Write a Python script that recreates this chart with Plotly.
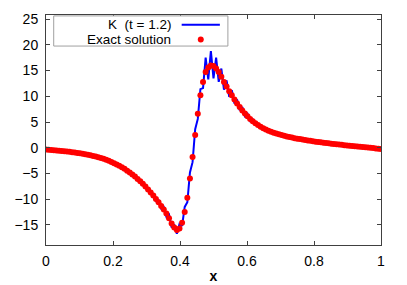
import plotly.graph_objects as go

N = 128
x_grid = [i / N for i in range(N + 1)]

exact_vals = [
    -0.35, -0.39, -0.43, -0.47, -0.52, -0.57, -0.62, -0.67, -0.73, -0.79,
    -0.85, -0.92, -1.00, -1.08, -1.16, -1.25, -1.35, -1.46, -1.58, -1.71,
    -1.85, -2.00, -2.16, -2.34, -2.55, -2.78, -3.00, -3.25, -3.50, -3.80,
    -4.10, -4.45, -4.80, -5.20, -5.60, -6.05, -6.50, -7.00, -7.55, -8.10,
    -8.70, -9.30, -9.95, -10.60, -11.30, -12.00, -12.80, -13.70, -14.70, -15.50,
    -16.00, -15.70, -14.60, -12.50, -9.70, -6.00, -1.80, 2.50, 6.60, 10.20,
    12.80, 14.70, 15.60, 16.00, 15.90, 15.40, 14.70, 13.80, 12.80, 11.90,
    11.00, 10.20, 9.40, 8.60, 7.90, 7.25, 6.65, 6.10, 5.60, 5.15,
    4.75, 4.40, 4.10, 3.80, 3.55, 3.32, 3.10, 2.92, 2.75, 2.60,
    2.46, 2.33, 2.20, 2.08, 1.97, 1.87, 1.77, 1.68, 1.59, 1.50,
    1.42, 1.34, 1.26, 1.19, 1.12, 1.05, 0.98, 0.92, 0.86, 0.80,
    0.74, 0.68, 0.62, 0.56, 0.50, 0.45, 0.39, 0.34, 0.28, 0.23,
    0.18, 0.13, 0.08, 0.03, -0.02, -0.07, -0.13, -0.18, -0.25,
]

k_vals = [
    -0.35, -0.39, -0.43, -0.47, -0.52, -0.57, -0.62, -0.67, -0.73, -0.79,
    -0.85, -0.92, -1.00, -1.08, -1.16, -1.25, -1.35, -1.46, -1.58, -1.71,
    -1.85, -2.00, -2.16, -2.34, -2.55, -2.78, -3.00, -3.25, -3.50, -3.80,
    -4.10, -4.45, -4.80, -5.20, -5.60, -6.05, -6.50, -7.00, -7.75, -7.90,
    -9.00, -9.00, -10.35, -10.20, -11.80, -11.50, -13.40, -13.00, -15.50, -14.90,
    -16.70, -14.80, -15.20, -11.50, -10.60, -4.80, -2.80, 3.60, 5.60, 11.40,
    11.60, 17.50, 13.30, 18.80, 13.50, 17.50, 12.80, 15.40, 11.30, 13.10,
    9.90, 11.20, 8.60, 9.40, 7.30, 7.90, 6.15, 6.60, 5.20, 5.50,
    4.45, 4.60, 3.90, 3.95, 3.45, 3.40, 3.05, 2.96, 2.75, 2.60,
    2.46, 2.33, 2.20, 2.08, 1.97, 1.87, 1.77, 1.68, 1.59, 1.50,
    1.42, 1.34, 1.26, 1.19, 1.12, 1.05, 0.98, 0.92, 0.86, 0.80,
    0.74, 0.68, 0.62, 0.56, 0.50, 0.45, 0.39, 0.34, 0.28, 0.23,
    0.18, 0.13, 0.08, 0.03, -0.02, -0.07, -0.13, -0.18, -0.25,
]

x_ticks = [0, 0.2, 0.4, 0.6, 0.8, 1]
x_tick_labels = ["0", "0.2", "0.4", "0.6", "0.8", "1"]
y_ticks = [-15, -10, -5, 0, 5, 10, 15, 20, 25]

legend_k = "K\u00a0\u00a0(t = 1.2)"
legend_exact = "Exact solution"

FONT = "Liberation Sans, Arial, sans-serif"
FRAME = "#404040"

fig = go.Figure()
fig.add_trace(go.Scatter(x=x_grid, y=k_vals, mode="lines",
                         line=dict(color="#0000ff", width=2), name=legend_k,
                         showlegend=False))
fig.add_trace(go.Scatter(x=x_grid, y=exact_vals, mode="markers",
                         marker=dict(color="#ff0000", size=6), name=legend_exact,
                         showlegend=False))

axis_common = dict(showline=True, linecolor=FRAME, linewidth=1, mirror="ticks",
                   ticks="inside", ticklen=4, tickcolor=FRAME, showgrid=False,
                   zeroline=False, automargin=False,
                   tickfont=dict(family=FONT, size=14, color="#000"))

fig.update_xaxes(range=[0, 1], tickvals=x_ticks, ticktext=x_tick_labels,
                 ticklabelstandoff=3,
                 title=dict(text="<b>x</b>", font=dict(family=FONT, size=14, color="#000"),
                            standoff=3),
                 **axis_common)
fig.update_yaxes(range=[-18.9, 25.8], tickvals=y_ticks, ticklabelstandoff=4,
                 **axis_common)

# gnuplot-style key (text left, sample right) in the top-left corner
fig.add_shape(type="rect", xref="paper", yref="paper", x0=0.023, x1=0.543, y0=0.865, y1=0.996,
              line=dict(color="#a0a0a0", width=1), fillcolor="white", layer="above")
fig.add_annotation(xref="paper", yref="paper", x=0.378, y=0.958, text=legend_k,
                   showarrow=False, xanchor="right", yanchor="middle",
                   font=dict(family=FONT, size=13.5, color="#000"))
fig.add_annotation(xref="paper", yref="paper", x=0.378, y=0.894, text=legend_exact,
                   showarrow=False, xanchor="right", yanchor="middle",
                   font=dict(family=FONT, size=13.5, color="#000"))
fig.add_shape(type="line", xref="paper", yref="paper", x0=0.405, x1=0.519, y0=0.958, y1=0.958,
              line=dict(color="#0000ff", width=2), layer="above")
fig.add_shape(type="circle", xref="paper", yref="paper", xsizemode="pixel", ysizemode="pixel",
              xanchor=0.462, yanchor=0.894, x0=-3, x1=3, y0=-3, y1=3,
              line=dict(width=0), fillcolor="#ff0000", layer="above")

# the page body has an 8px default margin, so the figure is shrunk by 8px
fig.update_layout(width=399, height=277, margin=dict(l=38, r=26, t=7, b=40),
                  plot_bgcolor="white", paper_bgcolor="white",
                  font=dict(family=FONT, size=13, color="#000"))

fig.write_html("out.html")
